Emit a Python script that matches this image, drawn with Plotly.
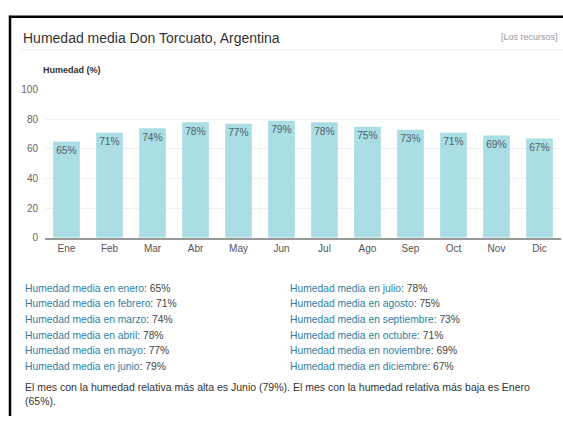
import plotly.graph_objects as go

# Monthly mean relative humidity, Don Torcuato
months = ["Ene", "Feb", "Mar", "Abr", "May", "Jun", "Jul", "Ago", "Sep", "Oct", "Nov", "Dic"]
month_names = ["enero", "febrero", "marzo", "abril", "mayo", "junio",
               "julio", "agosto", "septiembre", "octubre", "noviembre", "diciembre"]
humidity = [65, 71, 74, 78, 77, 79, 78, 75, 73, 71, 69, 67]
y_ticks = [0, 20, 40, 60, 80, 100]

W, H = 563, 422
FONT = "Liberation Sans, Arial, sans-serif"


def px(x):
    return x / W


def py(y):
    return 1 - y / H


fig = go.Figure()
fig.add_trace(go.Bar(
    x=months,
    y=humidity,
    marker=dict(color="#aadde4", line=dict(width=0)),
    width=0.62,
    text=[f"{v}%" for v in humidity],
    textposition="inside",
    insidetextanchor="end",
    textangle=0,
    textfont=dict(family=FONT, size=11, color="#4f6167"),
    hoverinfo="skip",
))

annotations = [
    dict(x=px(21), y=py(34), text="Humedad media Don Torcuato, Argentina",
         xanchor="left", font=dict(size=14, color="#333333")),
    dict(x=px(560), y=py(33), text="[Los recursos]",
         xanchor="right", font=dict(size=9, color="#999999")),
    dict(x=px(41), y=py(67), text="<b>Humedad (%)</b>",
         xanchor="left", font=dict(size=9, color="#333333")),
]

# two-column list of monthly values
row_y0, row_step = 291, 16
for i, (name, v) in enumerate(zip(month_names, humidity)):
    col, row = divmod(i, 6)
    annotations.append(dict(
        x=px(23 if col == 0 else 288), y=py(row_y0 + row * row_step),
        text=f"<span style='color:#2f7ea3'>Humedad media en {name}</span>: {v}%",
        xanchor="left", font=dict(size=10.3, color="#444444")))

hi = max(range(12), key=lambda k: humidity[k])
lo = min(range(12), key=lambda k: humidity[k])
annotations.append(dict(
    x=px(23), y=py(392),
    text=(f"El mes con la humedad relativa más alta es {month_names[hi].capitalize()} "
          f"({humidity[hi]}%). El mes con la humedad relativa más baja es "
          f"{month_names[lo].capitalize()}"),
    xanchor="left", font=dict(size=10.5, color="#333333")))
annotations.append(dict(
    x=px(23), y=py(407), text=f"({humidity[lo]}%).",
    xanchor="left", font=dict(size=10.5, color="#333333")))

for a in annotations:
    a.update(xref="paper", yref="paper", yanchor="middle", showarrow=False)

shapes = [
    # frame lines
    dict(type="line", xref="paper", yref="paper", x0=px(9), x1=1, y0=py(12), y1=py(12),
         line=dict(color="#000000", width=2.5)),
    dict(type="line", xref="paper", yref="paper", x0=px(10), x1=px(10), y0=py(11), y1=0,
         line=dict(color="#000000", width=2.5)),
    # header separator
    dict(type="line", xref="paper", yref="paper", x0=px(20), x1=1, y0=py(46), y1=py(46),
         line=dict(color="#eeeeee", width=1)),
]

fig.update_layout(
    width=W, height=H,
    margin=dict(l=0, r=0, t=0, b=0),
    paper_bgcolor="#ffffff",
    plot_bgcolor="#ffffff",
    showlegend=False,
    font=dict(family=FONT),
    annotations=annotations,
    shapes=shapes,
    xaxis=dict(
        domain=[px(45), px(561)],
        tickfont=dict(size=10, color="#555555"),
        showline=True, linecolor="#999999", linewidth=1.5,
        ticks="", showgrid=False, fixedrange=True,
    ),
    yaxis=dict(
        domain=[1 - 239 / H, 1 - 87 / H],
        range=[0, 100],
        tickvals=y_ticks,
        tickfont=dict(size=10, color="#666666"),
        showgrid=True, gridcolor="#f0f0f0", gridwidth=1,
        zeroline=False, showline=False, ticks="",
        ticklabelstandoff=6, fixedrange=True,
    ),
)

fig.write_html("out.html")
